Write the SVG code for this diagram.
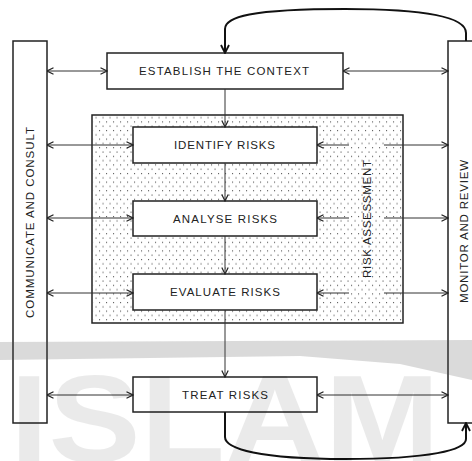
<svg xmlns="http://www.w3.org/2000/svg" width="472" height="461" viewBox="0 0 472 461">
<defs>
<pattern id="dots" x="0" y="0" width="7" height="8.6" patternUnits="userSpaceOnUse">
<rect x="1" y="1" width="1.1" height="1.1" fill="#555"/>
<rect x="4.5" y="5.3" width="1.1" height="1.1" fill="#555"/>
</pattern>
<marker id="arr" viewBox="0 0 8 8" refX="7.5" refY="4" markerWidth="8" markerHeight="8" markerUnits="userSpaceOnUse" orient="auto-start-reverse">
<path d="M1,0.8 L7.5,4 L1,7.2" fill="none" stroke="#222" stroke-width="1.2"/>
</marker>
<marker id="arrB" viewBox="0 0 10 10" refX="9" refY="5" markerWidth="10" markerHeight="10" markerUnits="userSpaceOnUse" orient="auto">
<path d="M1,1 L9,5 L1,9" fill="none" stroke="#111" stroke-width="1.8"/>
</marker>
</defs>
<style>
.box{fill:#fff;stroke:#222;stroke-width:1.5}
.lbl{font-family:"Liberation Sans",Arial,sans-serif;font-size:11.5px;fill:#222;text-anchor:middle}
.con{stroke:#333;stroke-width:1;fill:none}
.loop{stroke:#111;stroke-width:2;fill:none}
</style>
<rect width="472" height="461" fill="#fff"/>

<g id="risk-assessment">
<rect x="92" y="115" width="311" height="208" fill="#fff" stroke="#222" stroke-width="1.5"/>
<rect x="92.5" y="115.5" width="310" height="207" fill="url(#dots)"/>
<text class="lbl" transform="translate(371,219) rotate(-90)" textLength="118" lengthAdjust="spacing">RISK ASSESSMENT</text>
</g>

<g id="communicate">
<rect class="box" x="13" y="41" width="34" height="382"/>
<text class="lbl" transform="translate(34,222.5) rotate(-90)" textLength="191" lengthAdjust="spacing">COMMUNICATE AND CONSULT</text>
</g>

<g id="monitor">
<rect class="box" x="448" y="41" width="40" height="382"/>
<text class="lbl" transform="translate(468,231.5) rotate(-90)" textLength="143" lengthAdjust="spacing">MONITOR AND REVIEW</text>
</g>

<g id="establish">
<rect class="box" x="107" y="53" width="236" height="36"/>
<text class="lbl" x="224" y="75" textLength="170" lengthAdjust="spacing">ESTABLISH THE CONTEXT</text>
</g>

<g id="identify">
<rect class="box" x="133" y="127" width="184" height="36"/>
<text class="lbl" x="224.5" y="149" textLength="101" lengthAdjust="spacing">IDENTIFY RISKS</text>
</g>

<g id="analyse">
<rect class="box" x="133" y="201" width="184" height="35"/>
<text class="lbl" x="225" y="222.5" textLength="104" lengthAdjust="spacing">ANALYSE RISKS</text>
</g>

<g id="evaluate">
<rect class="box" x="133" y="274" width="184" height="36"/>
<text class="lbl" x="225" y="296" textLength="110" lengthAdjust="spacing">EVALUATE RISKS</text>
</g>

<g id="treat">
<rect class="box" x="133" y="377" width="184" height="35"/>
<text class="lbl" x="225" y="399" textLength="86" lengthAdjust="spacing">TREAT RISKS</text>
</g>

<g id="connectors">
<line class="con" x1="47" y1="71" x2="107" y2="71" marker-start="url(#arr)" marker-end="url(#arr)"/>
<line class="con" x1="47" y1="145" x2="133" y2="145" marker-start="url(#arr)" marker-end="url(#arr)"/>
<line class="con" x1="47" y1="218" x2="133" y2="218" marker-start="url(#arr)" marker-end="url(#arr)"/>
<line class="con" x1="47" y1="293" x2="133" y2="293" marker-start="url(#arr)" marker-end="url(#arr)"/>
<line class="con" x1="47" y1="395" x2="133" y2="395" marker-start="url(#arr)" marker-end="url(#arr)"/>
<line class="con" x1="343" y1="71" x2="448" y2="71" marker-start="url(#arr)" marker-end="url(#arr)"/>
<line class="con" x1="317" y1="145" x2="349" y2="145" marker-start="url(#arr)"/>
<line class="con" x1="384" y1="145" x2="448" y2="145" marker-end="url(#arr)"/>
<line class="con" x1="317" y1="218" x2="349" y2="218" marker-start="url(#arr)"/>
<line class="con" x1="384" y1="218" x2="448" y2="218" marker-end="url(#arr)"/>
<line class="con" x1="317" y1="293" x2="349" y2="293" marker-start="url(#arr)"/>
<line class="con" x1="384" y1="293" x2="448" y2="293" marker-end="url(#arr)"/>
<line class="con" x1="317" y1="395" x2="448" y2="395" marker-start="url(#arr)" marker-end="url(#arr)"/>
<line class="con" x1="225" y1="89" x2="225" y2="127" marker-end="url(#arr)"/>
<line class="con" x1="225" y1="163" x2="225" y2="201" marker-end="url(#arr)"/>
<line class="con" x1="225" y1="236" x2="225" y2="274" marker-end="url(#arr)"/>
<line class="con" x1="225" y1="310" x2="225" y2="377" marker-end="url(#arr)"/>
<path class="loop" d="M466,41 L466,33 C466,20 440,9 345,9 C250,9 225,17 225,29 L225,53" marker-end="url(#arrB)"/>
<path class="loop" d="M225,412 L225,437 C225,449 260,459 345,459 C430,459 466,450 466,439 L466,423" marker-end="url(#arrB)"/>
</g>

<g id="watermark" opacity="0.22">
<polygon points="0,342 472,340 472,380 400,364 300,356 0,360" fill="#555"/>
</g>
<g id="watermark-text" opacity="0.08">
<text x="225" y="462" font-family="Liberation Sans,Arial,sans-serif" font-weight="bold" font-size="125" text-anchor="middle" textLength="430" lengthAdjust="spacingAndGlyphs" fill="#000">ISLAM</text>
</g>
</svg>
